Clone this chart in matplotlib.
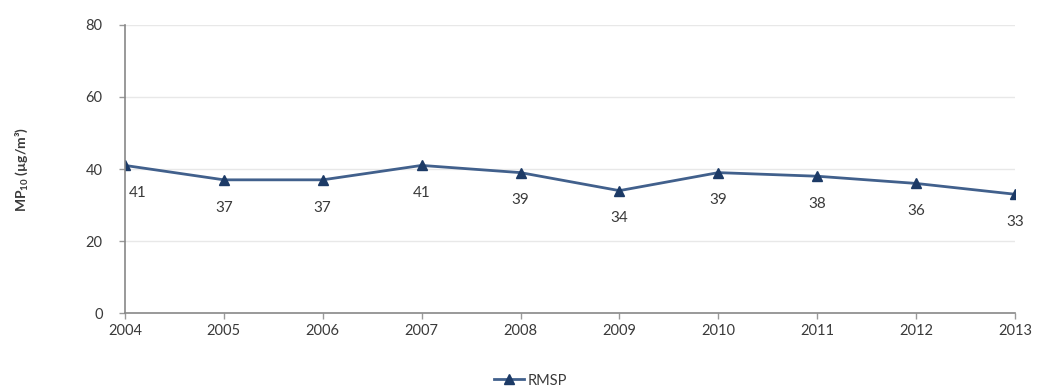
import matplotlib.pyplot as plt

years = [2004, 2005, 2006, 2007, 2008, 2009, 2010, 2011, 2012, 2013]
rmsp = [41, 37, 37, 41, 39, 34, 39, 38, 36, 33]

plt.rcParams['font.family'] = ['Lato', 'DejaVu Sans']
plt.rcParams['mathtext.default'] = 'regular'

line_color = '#41608c'
marker_color = '#1c3a66'
text_color = '#3a3a3a'

fig = plt.figure(figsize=(10.41, 3.89), dpi=100)
ax = fig.add_axes([0.120, 0.195, 0.855, 0.741])

ax.plot(years, rmsp, color=line_color, lw=2, marker='^', ms=7,
        mfc=marker_color, mec=marker_color, label='RMSP')

for i, (x, y) in enumerate(zip(years, rmsp)):
    dx = 9 if i == 0 else 0
    ax.annotate(str(y), (x, y), xytext=(dx, -15), textcoords='offset points',
                ha='center', va='top', fontsize=11, color=text_color)

ax.set_xlim(2004, 2013)
ax.set_ylim(0, 80)
ax.set_xticks(years)
ax.set_yticks([0, 20, 40, 60, 80])
ax.tick_params(axis='both', labelsize=10.5, colors='#999999', labelcolor=text_color,
               length=4, width=1)
ax.tick_params(axis='y', pad=12)
ax.yaxis.grid(True, color='#e8e8e8', lw=1)
ax.set_axisbelow(True)

for side in ['top', 'right']:
    ax.spines[side].set_visible(False)
for side in ['left', 'bottom']:
    ax.spines[side].set_color('#888888')
    ax.spines[side].set_linewidth(1.2)

ax.set_ylabel('MP$_{10}$ (µg/m³)', fontsize=10, fontweight='bold',
              color=text_color, labelpad=40)

fig.legend(loc='lower center', bbox_to_anchor=(0.51, -0.03), frameon=False,
           fontsize=10.5, handlelength=2.0, handletextpad=0.3, labelcolor=text_color)

fig.savefig('out.png', dpi=100)
